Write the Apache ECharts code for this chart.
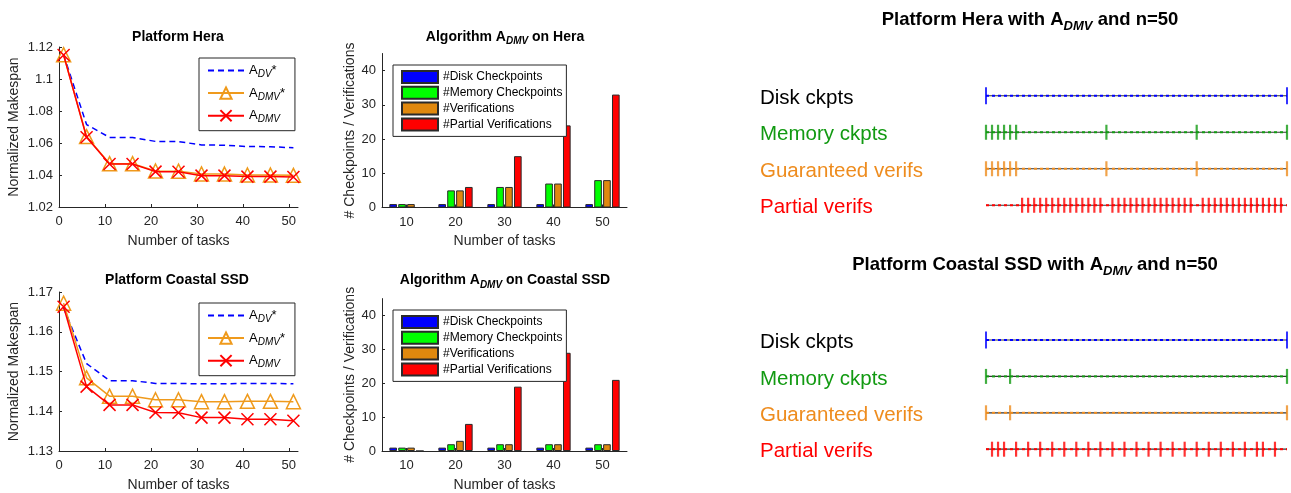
<!DOCTYPE html>
<html><head><meta charset="utf-8">
<script src="https://cdn.jsdelivr.net/npm/echarts@6/dist/echarts.min.js"></script>
<style>html,body{margin:0;padding:0;background:#fff}#c{width:1291px;height:493px}</style>
</head><body><div id="c"></div>
<script>
// ---------- data ----------
const taskCounts = [1, 6, 11, 16, 21, 26, 31, 36, 41, 46, 51];
const heraDV     = [1.1152, 1.0715, 1.0635, 1.0634, 1.0610, 1.0609, 1.0588, 1.0586, 1.0578, 1.0577, 1.0570];
const heraDMVs   = [1.1152, 1.0640, 1.0471, 1.0471, 1.0425, 1.0424, 1.0407, 1.0406, 1.0400, 1.0400, 1.0398];
const heraDMV    = [1.1150, 1.0636, 1.0469, 1.0469, 1.0421, 1.0420, 1.0396, 1.0396, 1.0390, 1.0390, 1.0387];
const coastDV    = [1.1660, 1.1520, 1.1477, 1.1477, 1.1470, 1.1470, 1.1469, 1.1469, 1.1470, 1.1470, 1.1469];
const coastDMVs  = [1.1672, 1.1484, 1.1438, 1.1438, 1.1429, 1.1429, 1.1424, 1.1424, 1.1425, 1.1425, 1.1424];
const coastDMV   = [1.1663, 1.1462, 1.1416, 1.1416, 1.1397, 1.1396, 1.1384, 1.1384, 1.1380, 1.1380, 1.1376];

const lineXTicks  = [0, 10, 20, 30, 40, 50];
const heraYTicks  = [1.02, 1.04, 1.06, 1.08, 1.1, 1.12];
const coastYTicks = [1.13, 1.14, 1.15, 1.16, 1.17];
const barYTicks   = [0, 10, 20, 30, 40];

const barCategories = ['10', '20', '30', '40', '50'];
const barNames = ['#Disk Checkpoints', '#Memory Checkpoints', '#Verifications', '#Partial Verifications'];
const heraDisk    = [1, 1, 1, 1, 1];
const heraMem     = [1, 5, 6, 7, 8];
const heraVer     = [1, 5, 6, 7, 8];
const heraPart    = [0, 6, 15, 24, 33];
const coastDisk   = [1, 1, 1, 1, 1];
const coastMem    = [1, 2, 2, 2, 2];
const coastVer    = [1, 3, 2, 2, 2];
const coastPart   = [0, 8, 19, 29, 21];

const timelineRows = ['Disk ckpts', 'Memory ckpts', 'Guaranteed verifs', 'Partial verifs'];
const timelineSpan = [0, 50];
const tlHeraDisk  = [0, 50];
const tlHeraMem   = [0, 1, 2, 3, 4, 5, 20, 35, 50];
const tlHeraVer   = [0, 1, 2, 3, 4, 5, 20, 35, 50];
const tlHeraPart  = [6, 7, 8, 9, 10, 11, 12, 13, 14, 15, 16, 17, 18, 19,
                     21, 22, 23, 24, 25, 26, 27, 28, 29, 30, 31, 32, 33, 34,
                     36, 37, 38, 39, 40, 41, 42, 43, 44, 45, 46, 47, 48, 49];
const tlCoastDisk = [0, 50];
const tlCoastMem  = [0, 4, 50];
const tlCoastVer  = [0, 4, 50];
const tlCoastPart = [1, 2, 3, 5, 7, 9, 11, 13, 15, 17, 19, 21, 23, 25, 27, 29, 31, 33, 35, 37, 39, 41, 43, 45, 46, 48];

// ---------- styles ----------
const FONT = '"Liberation Sans", Arial, Helvetica, sans-serif';
const AX = '#262626';
const BLUE = '#0000ff', ORANGE = '#ef9a1c', RED = '#ff0000';
const barColors = ['#0000ff', '#00ff00', '#e0880e', '#ff0000'];
const rowColors = ['#0000ff', '#129a12', '#ee8c1e', '#ff0000'];
const rowTextColors = ['#000000', '#129a12', '#ee8c1e', '#ff0000'];

const chart = echarts.init(document.getElementById('c'));

const grids = [
  {left: 59, top: 47, width: 239, height: 160},
  {left: 59, top: 292, width: 239, height: 160},
  {left: 382, top: 53.5, width: 245, height: 154},
  {left: 382, top: 298.6, width: 245, height: 153.7},
  {left: 986, top: 77.5, width: 301, height: 146},
  {left: 986, top: 321.8, width: 301, height: 145.6},
  // label-only grids (row labels sit slightly below their lines)
  {left: 986, top: 80, width: 301, height: 146},
  {left: 986, top: 324.4, width: 301, height: 145.6}
];

function axisBase() {
  return {
    axisLine: {show: true, onZero: false, lineStyle: {color: AX, width: 1}},
    axisTick: {show: true, inside: true, length: 3, lineStyle: {color: AX}},
    axisLabel: {color: AX, fontSize: 13, fontFamily: FONT},
    splitLine: {show: false},
    nameTextStyle: {color: AX, fontSize: 14, fontFamily: FONT}
  };
}
function lineX(gi) {
  const a = axisBase();
  a.gridIndex = gi; a.type = 'value'; a.min = 0; a.max = 52;
  a.axisTick.customValues = lineXTicks; a.axisLabel.customValues = lineXTicks; a.axisLabel.margin = 8;
  a.name = 'Number of tasks'; a.nameLocation = 'middle'; a.nameGap = 27;
  return a;
}
function lineY(gi, ticks) {
  const a = axisBase();
  a.gridIndex = gi; a.type = 'value'; a.min = ticks[0]; a.max = ticks[ticks.length - 1];
  a.axisTick.customValues = ticks; a.axisLabel.customValues = ticks; a.axisLabel.margin = 6;
  a.name = 'Normalized Makespan'; a.nameLocation = 'middle'; a.nameGap = 38;
  return a;
}
function barX(gi) {
  const a = axisBase();
  a.gridIndex = gi; a.type = 'category'; a.data = barCategories;
  a.axisTick.alignWithLabel = true; a.axisLabel.margin = 8;
  a.name = 'Number of tasks'; a.nameLocation = 'middle'; a.nameGap = 27;
  return a;
}
function barY(gi) {
  const a = axisBase();
  a.gridIndex = gi; a.type = 'value'; a.min = 0; a.max = 45;
  a.axisTick.customValues = barYTicks; a.axisLabel.customValues = barYTicks; a.axisLabel.margin = 6;
  a.name = '# Checkpoints / Verifications'; a.nameLocation = 'middle'; a.nameGap = 21;
  return a;
}
function tlX(gi) {
  return {gridIndex: gi, type: 'value', min: timelineSpan[0], max: timelineSpan[1], show: false};
}
function tlY(gi, showLabels) {
  return {
    gridIndex: gi, type: 'category', data: timelineRows, inverse: true,
    axisLine: {show: false}, axisTick: {show: false}, splitLine: {show: false},
    axisLabel: {
      show: showLabels, align: 'left', margin: 226, fontSize: 20.5, fontFamily: FONT,
      color: function (v) { return rowTextColors[timelineRows.indexOf(v)]; }
    }
  };
}

const xAxes = [lineX(0), lineX(1), barX(2), barX(3), tlX(4), tlX(5), tlX(6), tlX(7)];
const yAxes = [lineY(0, heraYTicks), lineY(1, coastYTicks), barY(2), barY(3),
               tlY(4, false), tlY(5, false), tlY(6, true), tlY(7, true)];

const series = [];
const X_PATH = 'path://M0,0L10,10M10,0L0,10';
function addLines(ai, dv, dmvs, dmv) {
  series.push({
    name: 'A_DV*', type: 'line', xAxisIndex: ai, yAxisIndex: ai,
    data: taskCounts.map((t, i) => [t, dv[i]]), showSymbol: false, symbol: 'none',
    lineStyle: {color: BLUE, width: 1.5, type: [6, 4]}, itemStyle: {color: BLUE, opacity: 0}, z: 2
  });
  series.push({
    name: 'A_DMV*', type: 'line', xAxisIndex: ai, yAxisIndex: ai,
    data: taskCounts.map((t, i) => [t, dmvs[i]]), symbol: 'triangle', symbolSize: 14,
    lineStyle: {color: ORANGE, width: 1.5},
    itemStyle: {color: 'rgba(255,255,255,0)', borderColor: ORANGE, borderWidth: 1.5}, z: 3
  });
  series.push({
    name: 'A_DMV', type: 'line', xAxisIndex: ai, yAxisIndex: ai,
    data: taskCounts.map((t, i) => [t, dmv[i]]), symbol: X_PATH, symbolSize: 12,
    lineStyle: {color: RED, width: 1.5},
    itemStyle: {color: 'rgba(255,255,255,0)', borderColor: RED, borderWidth: 1.5}, z: 4
  });
}
addLines(0, heraDV, heraDMVs, heraDMV);
addLines(1, coastDV, coastDMVs, coastDMV);

function addBars(ai, arrs) {
  arrs.forEach((arr, k) => {
    series.push({
      name: barNames[k], type: 'bar', xAxisIndex: ai, yAxisIndex: ai, data: arr,
      barGap: '16%', barCategoryGap: '30%',
      itemStyle: {color: barColors[k], borderColor: '#2a2a2a', borderWidth: 1}
    });
  });
}
addBars(2, [heraDisk, heraMem, heraVer, heraPart]);
addBars(3, [coastDisk, coastMem, coastVer, coastPart]);

function addTimeline(ai, events) {
  timelineRows.forEach((row, r) => {
    series.push({
      type: 'line', xAxisIndex: ai, yAxisIndex: ai, silent: true, symbol: 'none',
      data: [[timelineSpan[0], r], [timelineSpan[1], r]],
      lineStyle: {color: '#333333', width: 1.2}, z: 2
    });
    series.push({
      type: 'line', xAxisIndex: ai, yAxisIndex: ai, silent: true, symbol: 'none',
      data: [[timelineSpan[0], r], [timelineSpan[1], r]],
      lineStyle: {color: rowColors[r], width: 2, type: [3, 3]}, z: 3
    });
    series.push({
      type: 'scatter', xAxisIndex: ai, yAxisIndex: ai, silent: true,
      data: events[r].map(t => [t, r]), symbol: 'rect', symbolSize: r === 0 ? [2, 17] : [2.2, 15],
      itemStyle: {color: rowColors[r]}, z: 4
    });
  });
}
addTimeline(4, [tlHeraDisk, tlHeraMem, tlHeraVer, tlHeraPart]);
addTimeline(5, [tlCoastDisk, tlCoastMem, tlCoastVer, tlCoastPart]);

// ---------- legends ----------
const legendLabel = {'A_DV*': '{n|A}{s|DV}{n|*}', 'A_DMV*': '{n|A}{s|DMV}{n|*}', 'A_DMV': '{n|A}{s|DMV}'};
const subRich = {
  n: {fontSize: 13, fontFamily: FONT, color: '#000', lineHeight: 18},
  s: {fontSize: 10, fontFamily: FONT, fontStyle: 'italic', color: '#000', lineHeight: 10, verticalAlign: 'bottom'}
};
function lineLegend(top) {
  return {
    data: ['A_DV*', 'A_DMV*', 'A_DMV'], orient: 'vertical', left: 199, top: top,
    itemWidth: 36, itemHeight: 14, itemGap: 7, padding: [6, 10, 6, 8],
    borderColor: AX, borderWidth: 1, backgroundColor: '#fff', selectedMode: false,
    formatter: n => legendLabel[n], textStyle: {rich: subRich}
  };
}
function barLegend(top) {
  return {
    data: barNames, orient: 'vertical', left: 393, top: top, icon: 'rect',
    itemWidth: 36, itemHeight: 12, itemGap: 1.8, padding: [5, 4, 5, 8],
    borderColor: AX, borderWidth: 1, backgroundColor: '#fff', selectedMode: false,
    textStyle: {fontSize: 12, lineHeight: 12, fontFamily: FONT, color: '#000'}
  };
}
const legends = [lineLegend(58), lineLegend(303), barLegend(65), barLegend(310)];

// ---------- titles ----------
const titleRich = {
  b: {fontSize: 14, fontWeight: 'bold', fontFamily: FONT, color: '#000', lineHeight: 20},
  s: {fontSize: 10, fontWeight: 'bold', fontStyle: 'italic', fontFamily: FONT, color: '#000', lineHeight: 10, verticalAlign: 'bottom'}
};
const bigTitleRich = {
  b: {fontSize: 18.5, fontWeight: 'bold', fontFamily: FONT, color: '#000', lineHeight: 26},
  s: {fontSize: 13, fontWeight: 'bold', fontStyle: 'italic', fontFamily: FONT, color: '#000', lineHeight: 13, verticalAlign: 'bottom'}
};
function title(text, cx, cy, rich, half) {
  return {text: text, left: cx, top: cy - half, textAlign: 'center', padding: 0,
          textStyle: {rich: rich, fontFamily: FONT, color: '#000'}};
}
const titles = [
  title('{b|Platform Hera}', 178, 36.7, titleRich, 10),
  title('{b|Platform Coastal SSD}', 177, 280, titleRich, 10),
  title('{b|Algorithm A}{s|DMV}{b| on Hera}', 505, 36.7, titleRich, 10),
  title('{b|Algorithm A}{s|DMV}{b| on Coastal SSD}', 505, 280, titleRich, 10),
  title('{b|Platform Hera with A}{s|DMV}{b| and n=50}', 1030, 20, bigTitleRich, 13),
  title('{b|Platform Coastal SSD with A}{s|DMV}{b| and n=50}', 1035, 265, bigTitleRich, 13)
];

chart.setOption({
  backgroundColor: '#fff',
  animation: false,
  title: titles,
  legend: legends,
  grid: grids,
  xAxis: xAxes,
  yAxis: yAxes,
  series: series
});
</script></body></html>
